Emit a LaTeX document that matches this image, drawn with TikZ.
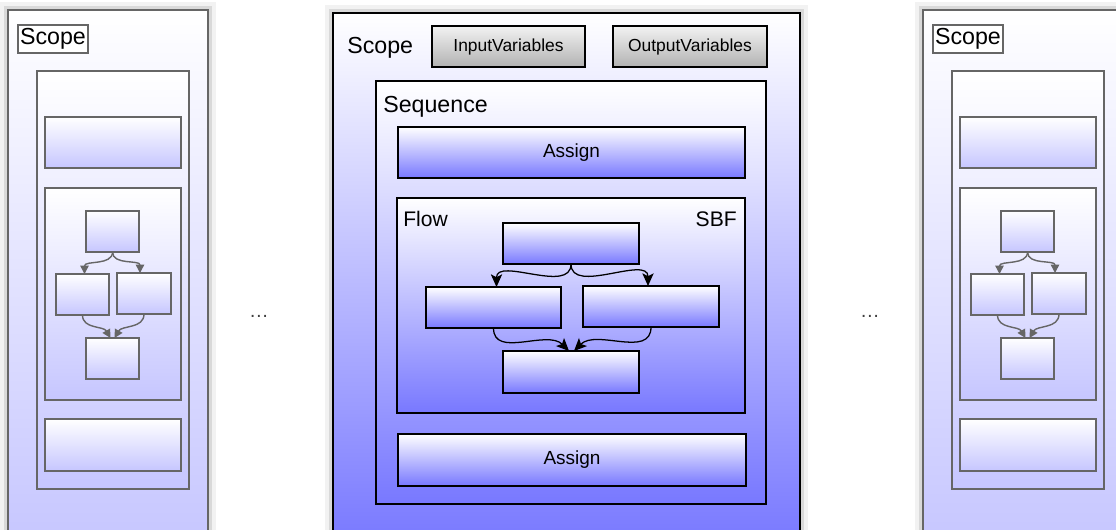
\documentclass[tikz,border=0pt]{standalone}
\usepackage{fontspec}
\setmainfont{Liberation Sans}
\usetikzlibrary{arrows.meta,positioning}
\definecolor{cBlue}{RGB}{120,120,255}
\definecolor{cPale}{RGB}{198,198,255}
\definecolor{cLine}{RGB}{102,102,102}
\definecolor{cVarTop}{RGB}{242,242,242}
\definecolor{cVarBot}{RGB}{178,178,178}
\newlength{\pxu}\setlength{\pxu}{0.025cm}

\tikzset{
  box/.style={rectangle, inner sep=0pt, outer sep=0pt},
  wh/.style 2 args={minimum width=#1*\pxu, minimum height=#2*\pxu},
  halo/.style={preaction={draw=black, opacity=0.05, line width=11pt},
               preaction={draw=black, opacity=0.10, line width=5pt}},
  mainbox/.style={box, draw=black, line width=1.4pt, top color=white, bottom color=cBlue},
  sidebox/.style={box, draw=cLine, line width=1.4pt, top color=white, bottom color=cPale},
  varbox/.style={box, draw=black, line width=1pt, top color=cVarTop, bottom color=cVarBot,
                 font=\fontsize{12.4}{14}\selectfont},
  lbl/.style={inner sep=0pt, font=\fontsize{16.5}{18}\selectfont},
  flowarr/.style={-{Stealth[length=9pt,width=8pt,inset=2pt]}, line width=0.9pt},
  sidearr/.style={-{Triangle[length=6pt,width=6pt]}, draw=cLine, line width=1pt},
}

\begin{document}
\begin{tikzpicture}[x=\pxu, y=-\pxu]
  \useasboundingbox (0,0) rectangle (1116,529);
  \clip (0,0) rectangle (1116,529);

  % faded scopes left and right
  \foreach \dx/\s in {0/L,915/R} {
    \begin{scope}[xshift=\dx*\pxu]
      \node[sidebox, halo, wh={200}{535}] (scope\s) at (108,277.5) {};
      \node[box, draw=cLine, fill=white, line width=1pt, wh={70}{28}, font=\fontsize{16.5}{18}\selectfont] (scopeLbl\s) at (53,39) {Scope};
      \node[sidebox, wh={152}{418}] (seq\s) at (113,280) {};
      \node[sidebox, wh={136}{51}] (top\s) at (113,142.5) {};
      \node[sidebox, wh={136}{212}] (flow\s) at (113,294) {};
      \node[sidebox, wh={53}{41}] (na\s) at (112.5,231.5) {};
      \node[sidebox, wh={53}{41}] (nb\s) at (82.5,294.5) {};
      \node[sidebox, wh={54}{41}] (nc\s) at (144,293.5) {};
      \node[sidebox, wh={53}{41}] (nd\s) at (112.5,358.5) {};
      \node[sidebox, wh={136}{52}] (bot\s) at (113,445) {};
      \draw[sidearr] (na\s.south) to[out=-90,in=90] ([xshift=2*\pxu]nb\s.north);
      \draw[sidearr] (na\s.south) to[out=-90,in=90] ([xshift=-4*\pxu]nc\s.north);
      \draw[sidearr] (nb\s.south) to[out=-90,in=120] ([xshift=-2*\pxu]nd\s.north);
      \draw[sidearr] (nc\s.south) to[out=-90,in=60] ([xshift=2*\pxu]nd\s.north);
    \end{scope}
  }

  \node[text=black!75, font=\fontsize{14}{14}\selectfont] (dotsL) at (259,316) {…};
  \node[text=black!75, font=\fontsize{14}{14}\selectfont] (dotsR) at (870,316) {…};

  % main scope
  \node[mainbox, halo, wh={467}{532}] (scope) at (566.5,279) {};
  \node[lbl, anchor=base west] (scopeLbl) at (347,53) {Scope};
  \node[varbox, wh={153}{41}] (inVars) at (508.5,46.5) {InputVariables};
  \node[varbox, wh={154}{41}] (outVars) at (690,46.5) {OutputVariables};

  \node[mainbox, wh={390}{423}] (seq) at (571,292.5) {};
  \node[lbl, anchor=base west] (seqLbl) at (383,112) {Sequence};
  \node[mainbox, wh={347}{51}, font=\fontsize{13.5}{16}\selectfont] (assignA) at (571.5,152.5) {Assign};

  \node[mainbox, wh={348}{215}] (flow) at (571,305.5) {};
  \node[lbl, anchor=base west, font=\fontsize{15}{17}\selectfont] (flowLbl) at (403,226) {Flow};
  \node[lbl, anchor=base east, font=\fontsize{15}{17}\selectfont] (sbfLbl) at (737,226) {SBF};
  \node[mainbox, wh={136}{41}] (fa) at (571,243.5) {};
  \node[mainbox, wh={135}{41}] (fb) at (493.5,307.5) {};
  \node[mainbox, wh={136}{41}] (fc) at (651,306.5) {};
  \node[mainbox, wh={136}{42}] (fd) at (571,372) {};
  \draw[flowarr] (fa.south) to[out=-90,in=90] ([xshift=3*\pxu]fb.north);
  \draw[flowarr] (fa.south) to[out=-90,in=90] ([xshift=-3*\pxu]fc.north);
  \draw[flowarr] (fb.south) to[out=-90,in=135] ([xshift=-2*\pxu]fd.north);
  \draw[flowarr] (fc.south) to[out=-90,in=45] ([xshift=3*\pxu]fd.north);

  \node[mainbox, wh={348}{52}, font=\fontsize{13.5}{16}\selectfont] (assignB) at (572,460) {Assign};
\end{tikzpicture}
\end{document}
